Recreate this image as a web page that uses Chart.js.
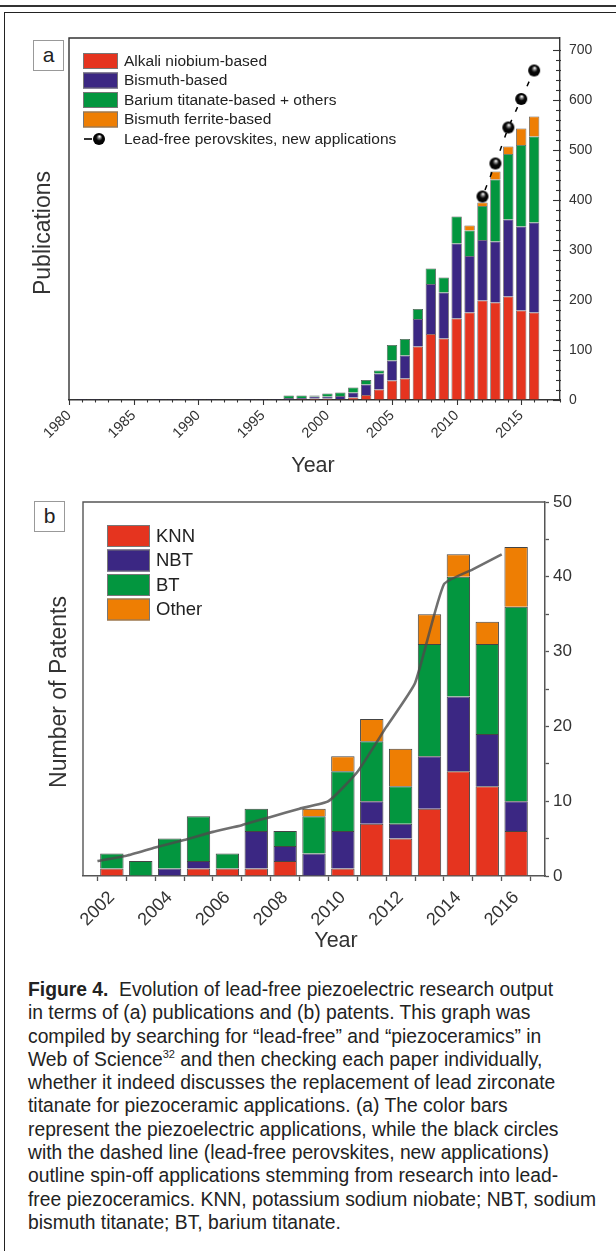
<!DOCTYPE html>
<html>
<head>
<meta charset="utf-8">
<script src="https://cdn.jsdelivr.net/npm/chart.js@4.4.1/dist/chart.umd.min.js"></script>
<style>
  body { margin:0; width:616px; height:1251px; background:#fff; position:relative; overflow:hidden;
         font-family:"Liberation Sans", Arial, Helvetica, sans-serif; }
  .topline { position:absolute; left:0; width:616px; top:5px; height:2px; background:#333; }
  .frame { position:absolute; left:4px; top:12px; width:700px; height:1300px;
           border-left:1.5px solid #222; border-top:1.5px solid #222; }
  .panel { position:absolute; left:0; width:616px; height:480px; }
  .tag { position:absolute; width:29px; height:29px; border:1px solid #999; background:#fff;
         font-size:21px; line-height:27px; text-align:center; color:#222; }
  .caption { position:absolute; left:28px; top:978px; width:900px; font-size:19.3px; line-height:23.3px;
             color:#222; }
  .caption span { display:block; white-space:nowrap; }
  .caption sup { font-size:11px; vertical-align:8px; line-height:0; }
</style>
</head>
<body>
<div class="topline"></div>
<div class="frame"></div>
<div class="panel" style="top:0"><canvas id="chartA" width="616" height="480"></canvas></div>
<div class="panel" style="top:480px"><canvas id="chartB" width="616" height="480"></canvas></div>
<div class="tag" style="left:33px;top:40px">a</div>
<div class="tag" style="left:34px;top:501px">b</div>
<div class="caption">
<span><b>Figure 4.</b>&nbsp; Evolution of lead-free piezoelectric research output</span>
<span>in terms of (a) publications and (b) patents. This graph was</span>
<span>compiled by searching for “lead-free” and “piezoceramics” in</span>
<span>Web of Science<sup>32</sup> and then checking each paper individually,</span>
<span>whether it indeed discusses the replacement of lead zirconate</span>
<span>titanate for piezoceramic applications. (a) The color bars</span>
<span>represent the piezoelectric applications, while the black circles</span>
<span>with the dashed line (lead-free perovskites, new applications)</span>
<span>outline spin-off applications stemming from research into lead-</span>
<span>free piezoceramics. KNN, potassium sodium niobate; NBT, sodium</span>
<span>bismuth titanate; BT, barium titanate.</span>
</div>

<script>
// ---- panel a: publications per year ----
const yearsA = [1980, 1981, 1982, 1983, 1984, 1985, 1986, 1987, 1988, 1989, 1990, 1991, 1992,
  1993, 1994, 1995, 1996, 1997, 1998, 1999, 2000, 2001, 2002, 2003, 2004, 2005, 2006, 2007,
  2008, 2009, 2010, 2011, 2012, 2013, 2014, 2015, 2016];
const alkaliNiobium = [0, 0, 0, 0, 0, 0, 0, 0, 0, 0, 0, 0, 0, 0, 0, 0, 0, 1, 2, 3, 3, 2, 5, 10,
  21, 39, 43, 107, 132, 123, 163, 175, 199, 195, 207, 179, 175];
const bismuthBased = [0, 2, 2, 0, 0, 0, 0, 2, 2, 2, 2, 2, 0, 0, 2, 2, 2, 3, 2, 4, 4, 6, 10, 21,
  32, 40, 46, 55, 100, 92, 150, 113, 121, 122, 154, 168, 180];
const bariumTitanate = [0, 0, 0, 0, 0, 0, 0, 0, 0, 0, 0, 0, 0, 0, 0, 0, 0, 5, 5, 2, 6, 7, 10, 9,
  6, 31, 33, 20, 31, 30, 54, 51, 68, 124, 131, 163, 172];
const bismuthFerrite = [0, 0, 0, 0, 0, 0, 0, 0, 0, 0, 0, 0, 0, 0, 0, 0, 0, 0, 0, 0, 0, 0, 0, 0,
  0, 0, 0, 0, 0, 0, 0, 10, 7, 16, 15, 33, 40];
const perovYears = [2012, 2013, 2014, 2015, 2016];
const perovskiteNew = [407, 473, 545, 602, 659];

// ---- panel b: patents per year ----
const yearsB = [2002, 2003, 2004, 2005, 2006, 2007, 2008, 2009, 2010, 2011, 2012, 2013, 2014, 2015, 2016];
const knn = [1, 0, 0, 1, 1, 1, 2, 0, 1, 7, 5, 9, 14, 12, 6];
const nbt = [0, 0, 1, 1, 0, 5, 2, 3, 5, 3, 2, 7, 10, 7, 4];
const bt = [2, 2, 4, 6, 2, 3, 2, 5, 8, 8, 5, 15, 16, 12, 26];
const other = [0, 0, 0, 0, 0, 0, 0, 1, 2, 3, 5, 4, 3, 3, 8];
const trendYears = [2001.5, 2002.5, 2003.5, 2004.5, 2005.5, 2006.5, 2007.5, 2008.5, 2009.5,
  2010.5, 2011.5, 2012.5, 2013.5, 2014.5, 2015.5];
const trendPatents = [2.0, 2.7, 3.8, 4.8, 5.9, 6.8, 7.9, 9.0, 10.0, 13.9, 19.9, 25.8, 39.0, 41.0, 43.0];

const RED = '#e5341f', PURPLE = '#3b2783', GREEN = '#03963f', ORANGE = '#ee7e03';
const FONT = '"Liberation Sans", Arial, Helvetica, sans-serif';
Chart.defaults.font.family = FONT;
Chart.defaults.color = '#333';

const pairs = (xs, ys) => xs.map((x, i) => ({ x: x, y: ys[i] }));

function makeBall(r) {
  const c = document.createElement('canvas');
  c.width = c.height = r * 2 + 2;
  const g = c.getContext('2d');
  const cx = r + 1, cy = r + 1;
  const grad = g.createRadialGradient(cx + r * 0.1, cy - r * 0.45, 0.3, cx, cy, r);
  grad.addColorStop(0, '#ffffff');
  grad.addColorStop(0.28, '#666');
  grad.addColorStop(0.5, '#080808');
  grad.addColorStop(1, '#000');
  g.fillStyle = grad;
  g.beginPath(); g.arc(cx, cy, r, 0, Math.PI * 2); g.fill();
  return c;
}
const ball = makeBall(6);

// frame lines, inward ticks, in-plot legend and axis titles
const decor = {
  id: 'decor',
  afterDraw(chart, args, o) {
    const ctx = chart.ctx, a = chart.chartArea;
    ctx.save();
    ctx.strokeStyle = o.frameColor; ctx.lineWidth = 1.4;
    ctx.beginPath();
    ctx.moveTo(a.left, a.bottom); ctx.lineTo(a.left, a.top); ctx.lineTo(a.right, a.top);
    ctx.stroke();

    if (o.innerTicks) {
      const s = chart.scales.y;
      ctx.lineWidth = 1.1;
      s.ticks.forEach(t => {
        if (t.value % 20 !== 0) return;
        const y = Math.round(s.getPixelForValue(t.value)) + 0.5;
        const len = t.value % 100 === 0 ? 7 : 4;
        ctx.beginPath(); ctx.moveTo(a.right - len, y); ctx.lineTo(a.right + 1, y); ctx.stroke();
      });
      const sx = chart.scales.x;
      sx.ticks.forEach(t => {
        const x = Math.round(sx.getPixelForValue(t.value)) + 0.5;
        const len = t.value % 5 === 0 ? 5 : 2.5;
        ctx.beginPath(); ctx.moveTo(x, a.bottom); ctx.lineTo(x, a.bottom + len); ctx.stroke();
      });
    }

    const L = o.legend;
    ctx.font = L.size + 'px ' + FONT;
    ctx.textBaseline = 'middle';
    let row = 0;
    chart.data.datasets.forEach(ds => {
      if (ds.type === 'line' && !L.withLine) return;
      const top = L.y + row * L.pitch, cy = top + L.h / 2;
      row++;
      if (ds.type === 'line') {
        ctx.strokeStyle = '#000'; ctx.lineWidth = 1.6;
        ctx.beginPath(); ctx.moveTo(L.x + 1, cy); ctx.lineTo(L.x + 9, cy); ctx.stroke();
        ctx.drawImage(ball, L.x + 16 - ball.width / 2, cy - ball.height / 2);
      } else {
        ctx.fillStyle = ds.backgroundColor;
        ctx.fillRect(L.x, top, L.w, L.h);
        ctx.strokeStyle = '#777'; ctx.lineWidth = 1;
        ctx.strokeRect(L.x + 0.5, top + 0.5, L.w - 1, L.h - 1);
      }
      ctx.fillStyle = '#222';
      ctx.fillText(ds.label, L.textX, cy + 0.5);
    });

    ctx.fillStyle = '#333';
    ctx.textAlign = 'center';
    o.titles.forEach(t => {
      ctx.save();
      ctx.font = t.size + 'px ' + FONT;
      ctx.translate(t.x, t.y);
      if (t.rotate) ctx.rotate(-Math.PI / 2);
      ctx.fillText(t.text, 0, 0);
      ctx.restore();
    });
    ctx.restore();
  }
};

const barA = (label, values, color) => ({
  label: label, data: pairs(yearsA, values), backgroundColor: color,
  borderColor: 'rgba(30,30,30,0.75)', borderWidth: 0.8,
  barPercentage: 1, categoryPercentage: 0.8
});

new Chart(document.getElementById('chartA'), {
  type: 'bar',
  data: {
    datasets: [
      barA('Alkali niobium-based', alkaliNiobium, RED),
      barA('Bismuth-based', bismuthBased, PURPLE),
      barA('Barium titanate-based + others', bariumTitanate, GREEN),
      barA('Bismuth ferrite-based', bismuthFerrite, ORANGE),
      {
        type: 'line', label: 'Lead-free perovskites, new applications',
        data: pairs(perovYears, perovskiteNew), order: -1,
        borderColor: '#000', borderWidth: 1.5, borderDash: [5, 9], borderDashOffset: -7,
        pointStyle: ball, pointRadius: 6
      }
    ]
  },
  options: {
    responsive: false, animation: false,
    layout: { padding: { left: 69, top: 38, right: 0, bottom: 0 } },
    plugins: {
      legend: { display: false }, tooltip: { enabled: false },
      decor: {
        frameColor: '#333', innerTicks: true,
        legend: { x: 83, y: 53, w: 35, h: 16, pitch: 19.5, textX: 124, size: 15.5, withLine: true },
        titles: [
          { text: 'Publications', x: 44, y: 233, size: 23, rotate: true },
          { text: 'Year', x: 313, y: 466, size: 21.5 }
        ]
      }
    },
    scales: {
      x: {
        type: 'linear', min: 1980, max: 2018, stacked: true, offset: false,
        grid: { drawOnChartArea: false, drawTicks: false },
        border: { color: '#333', width: 1.4 },
        ticks: {
          stepSize: 1, autoSkip: false, minRotation: 45, maxRotation: 45, padding: 7,
          font: { size: 14.5 }, color: '#333',
          callback: v => (v % 5 === 0 && v <= 2015) ? String(v) : ''
        },
        afterFit: s => { s.height = 80; }
      },
      y: {
        position: 'right', min: 0, max: 724, stacked: true,
        grid: { drawOnChartArea: false, drawTicks: false },
        border: { color: '#333', width: 1.4 },
        ticks: {
          stepSize: 20, autoSkip: false, padding: 9, font: { size: 14 }, color: '#333',
          callback: v => v % 100 === 0 ? String(v) : ''
        },
        afterFit: s => { s.width = 56; }
      }
    }
  },
  plugins: [decor]
});

const barB = (label, values, color) => ({
  label: label, data: pairs(yearsB, values), backgroundColor: color,
  borderColor: '#444', borderWidth: 1,
  barPercentage: 1, categoryPercentage: 0.81
});

new Chart(document.getElementById('chartB'), {
  type: 'bar',
  data: {
    datasets: [
      barB('KNN', knn, RED),
      barB('NBT', nbt, PURPLE),
      barB('BT', bt, GREEN),
      barB('Other', other, ORANGE),
      {
        type: 'line', label: 'trend', data: pairs(trendYears, trendPatents), order: -1,
        borderColor: 'rgba(75,75,75,0.8)', borderWidth: 2.6, pointRadius: 0, tension: 0.15
      }
    ]
  },
  options: {
    responsive: false, animation: false,
    layout: { padding: { left: 83, top: 22, right: 0, bottom: 0 } },
    plugins: {
      legend: { display: false }, tooltip: { enabled: false },
      decor: {
        frameColor: '#555', innerTicks: false,
        legend: { x: 107, y: 45, w: 43, h: 22, pitch: 24.5, textX: 156, size: 18.5, withLine: false },
        titles: [
          { text: 'Number of Patents', x: 60, y: 212, size: 23, rotate: true },
          { text: 'Year', x: 336, y: 461, size: 21.5 }
        ]
      }
    },
    scales: {
      x: {
        type: 'linear', min: 2001, max: 2017, stacked: true, offset: false,
        grid: { drawOnChartArea: false, tickLength: 5, tickColor: '#555', tickWidth: 1.3 },
        border: { color: '#555', width: 1.5 },
        ticks: {
          stepSize: 1, autoSkip: false, minRotation: 45, maxRotation: 45, padding: 6,
          font: { size: 18 }, color: '#333',
          callback: v => v % 2 === 0 ? String(v) : ''
        },
        afterFit: s => { s.height = 84; }
      },
      y: {
        position: 'right', min: 0, max: 50, stacked: true,
        grid: { drawOnChartArea: false, tickLength: 4, tickColor: '#555', tickWidth: 1.3 },
        border: { color: '#555', width: 1.5 },
        ticks: {
          stepSize: 5, autoSkip: false, padding: 4, font: { size: 17 }, color: '#333',
          callback: v => v % 10 === 0 ? String(v) : ''
        },
        afterFit: s => { s.width = 71; }
      }
    }
  },
  plugins: [decor]
});
</script>
</body>
</html>
